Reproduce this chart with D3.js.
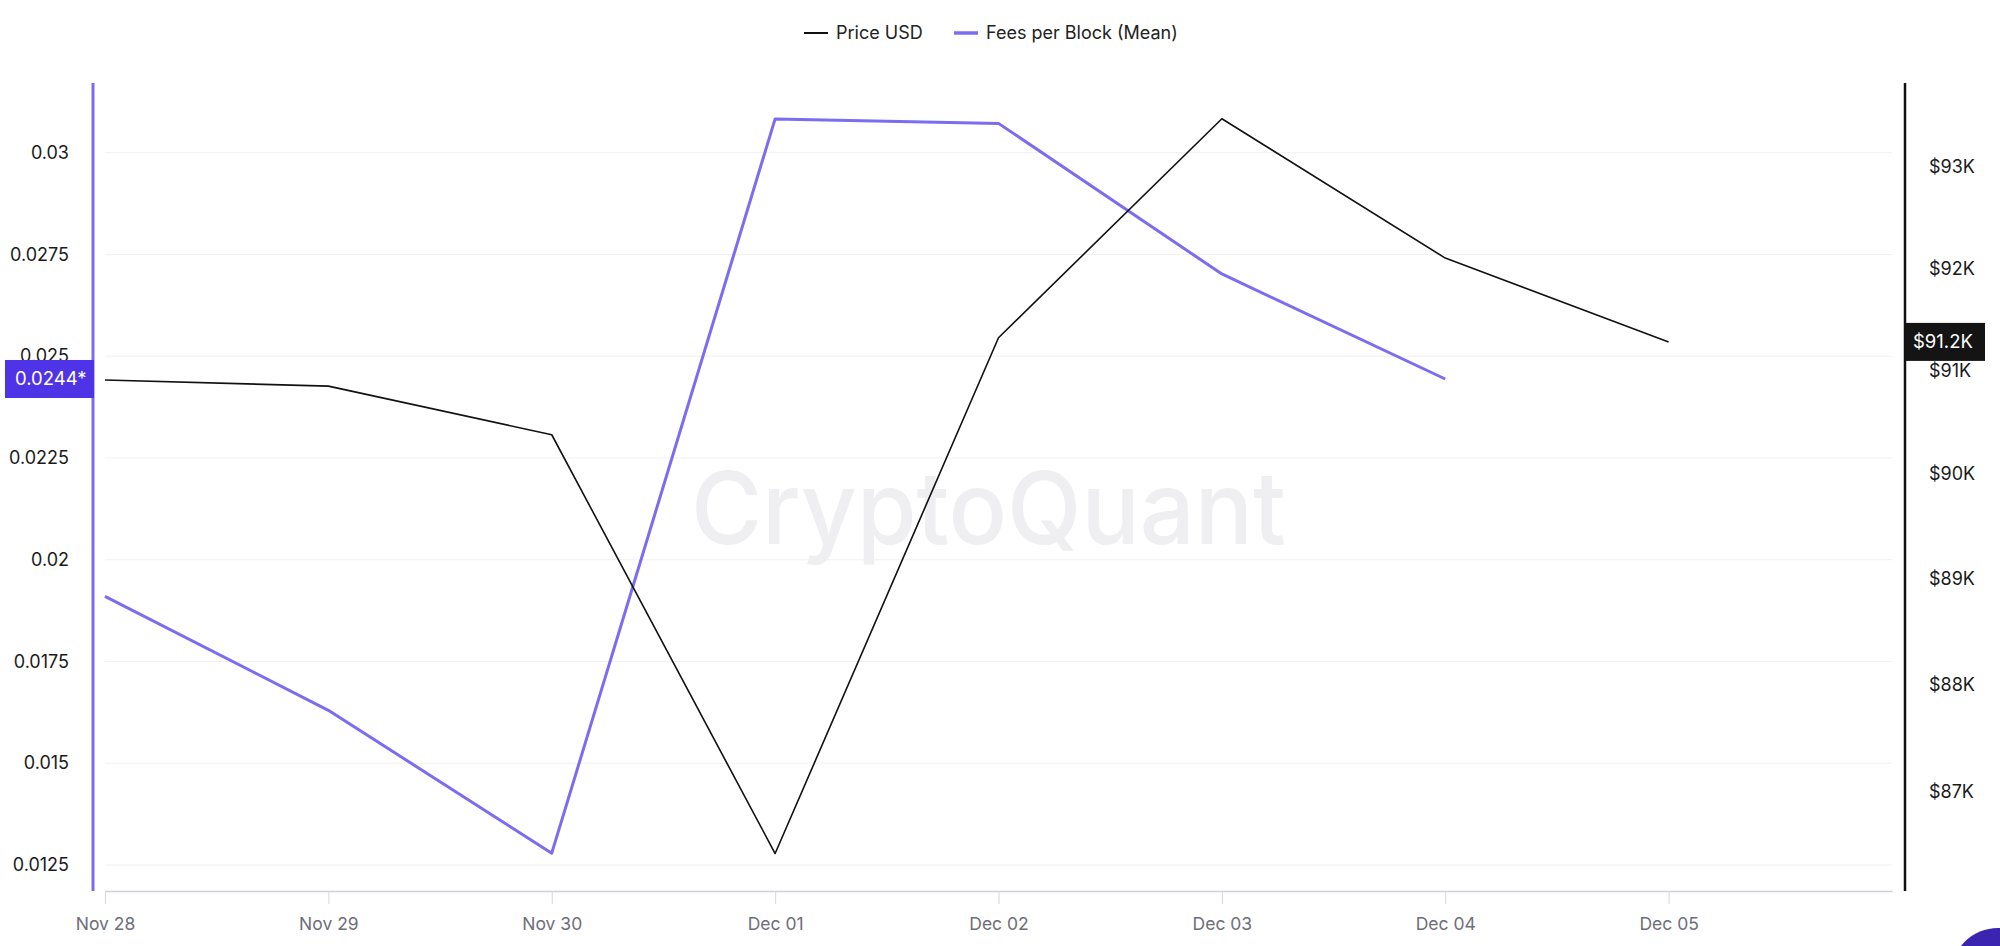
<!DOCTYPE html>
<html>
<head>
<meta charset="utf-8">
<script src="https://cdn.jsdelivr.net/npm/d3@7"></script>
<style>
  html, body { margin: 0; padding: 0; background: #ffffff; }
  svg { display: block; font-family: Inter, "Noto Sans", sans-serif; }
</style>
</head>
<body>
<svg id="chart" width="2000" height="946"></svg>
<script>
// ---- data ----
const dates = ["2024-11-28", "2024-11-29", "2024-11-30", "2024-12-01", "2024-12-02", "2024-12-03", "2024-12-04", "2024-12-05"];
const xTickLabels = ["Nov 28", "Nov 29", "Nov 30", "Dec 01", "Dec 02", "Dec 03", "Dec 04", "Dec 05"];
const priceUSD = [90910, 90850, 90380, 86430, 91320, 93480, 92100, 91280];
const feesPerBlockMean = [0.0191, 0.0163, 0.01279, 0.03083, 0.03072, 0.02702, 0.02444];
const leftTicks = [0.0125, 0.015, 0.0175, 0.02, 0.0225, 0.025, 0.0275, 0.03];
const rightTicks = [87000, 88000, 89000, 90000, 91000, 92000, 93000];
const seriesNames = ["Price USD", "Fees per Block (Mean)"];

// ---- layout ----
const svg = d3.select("#chart");
const plot = { left: 105, right: 1892, top: 83, bottom: 891 };
const purple = "#7b6cf2";
const parse = d3.utcParse("%Y-%m-%d");
const dateObjs = dates.map(parse);

const x = d3.scaleUtc()
  .domain([dateObjs[0], d3.utcDay.offset(dateObjs[dateObjs.length - 1], 1)])
  .range([plot.left, plot.right]);
const yL = d3.scaleLinear().domain([0.011861, 0.031712]).range([plot.bottom, plot.top]);
const yR = d3.scaleLog().domain([86085, 93837]).range([plot.bottom, plot.top]);

// gridlines (left axis)
svg.append("g").selectAll("line").data(leftTicks).join("line")
  .attr("x1", plot.left).attr("x2", plot.right)
  .attr("y1", d => yL(d)).attr("y2", d => yL(d))
  .attr("stroke", "#f1f1f3").attr("stroke-width", 1);

// watermark
svg.append("text")
  .attr("x", 691).attr("y", 544)
  .attr("textLength", 595).attr("lengthAdjust", "spacingAndGlyphs")
  .attr("font-size", 101).attr("font-weight", 500)
  .attr("fill", "#efeff2")
  .text("CryptoQuant");

// x axis
const xAxis = d3.axisBottom(x)
  .tickValues(dateObjs)
  .tickSizeInner(13)
  .tickSizeOuter(0)
  .tickPadding(14)
  .tickFormat((d, i) => xTickLabels[i]);
const gx = svg.append("g").attr("transform", `translate(0,${plot.bottom})`).call(xAxis);
gx.select(".domain").attr("stroke", "#cfd0de").attr("stroke-width", 1.5);
gx.selectAll(".tick line").attr("stroke", "#d6d6e2");
gx.selectAll(".tick text").attr("fill", "#6e6e7a").attr("font-size", 17.5).attr("font-family", "Inter, sans-serif");

// left axis
const yAxisL = d3.axisLeft(yL).tickValues(leftTicks).tickSize(0).tickPadding(24).tickFormat(d => String(d));
const gl = svg.append("g").attr("transform", `translate(93,0)`).call(yAxisL);
gl.select(".domain").remove();
gl.selectAll(".tick text").attr("fill", "#1a1a1a").attr("font-size", 18).attr("font-family", "Inter, sans-serif");
svg.append("line").attr("x1", 93).attr("x2", 93).attr("y1", plot.top).attr("y2", plot.bottom)
  .attr("stroke", purple).attr("stroke-width", 3);

// right axis
const yAxisR = d3.axisRight(yR).tickValues(rightTicks).tickSize(0).tickPadding(24)
  .tickFormat(d => "$" + Math.round(d / 1000) + "K");
const gr = svg.append("g").attr("transform", `translate(1905,0)`).call(yAxisR);
gr.select(".domain").remove();
gr.selectAll(".tick text").attr("fill", "#1a1a1a").attr("font-size", 18).attr("font-family", "Inter, sans-serif");
svg.append("line").attr("x1", 1905).attr("x2", 1905).attr("y1", plot.top).attr("y2", plot.bottom)
  .attr("stroke", "#111").attr("stroke-width", 2.5);

// lines
const feeLine = d3.line().x((d, i) => x(dateObjs[i])).y(d => yL(d));
const priceLine = d3.line().x((d, i) => x(dateObjs[i])).y(d => yR(d));

svg.append("path").datum(feesPerBlockMean)
  .attr("d", feeLine).attr("fill", "none")
  .attr("stroke", purple).attr("stroke-width", 3).attr("stroke-linejoin", "round");
svg.append("path").datum(priceUSD)
  .attr("d", priceLine).attr("fill", "none")
  .attr("stroke", "#111").attr("stroke-width", 1.6).attr("stroke-linejoin", "round");

// last value labels
const lastFee = feesPerBlockMean[feesPerBlockMean.length - 1];
const lf = yL(lastFee);
svg.append("rect").attr("x", 5).attr("y", lf - 19).attr("width", 89).attr("height", 38).attr("fill", "#4f33e6");
svg.append("text").attr("x", 15).attr("y", lf).attr("dy", "0.35em")
  .attr("fill", "#fff").attr("font-size", 18.5).text(lastFee.toFixed(4) + "*");

const lastPrice = priceUSD[priceUSD.length - 1];
const lp = yR(lastPrice);
svg.append("rect").attr("x", 1906).attr("y", lp - 19).attr("width", 79).attr("height", 38).attr("fill", "#141414");
svg.append("text").attr("x", 1913).attr("y", lp).attr("dy", "0.35em")
  .attr("fill", "#fff").attr("font-size", 18.5).text("$" + (Math.floor(lastPrice / 100) / 10).toFixed(1) + "K");

// legend
const legend = svg.append("g");
const legendItems = [
  { name: seriesNames[0], color: "#111", width: 2, x: 804 },
  { name: seriesNames[1], color: purple, width: 3.5, x: 954 }
];
legendItems.forEach(it => {
  legend.append("line").attr("x1", it.x).attr("x2", it.x + 24).attr("y1", 33).attr("y2", 33)
    .attr("stroke", it.color).attr("stroke-width", it.width);
  legend.append("text").attr("x", it.x + 32).attr("y", 33).attr("dy", "0.35em")
    .attr("font-size", 18).attr("fill", "#222").text(it.name);
});

// corner chat button (partially visible)
svg.append("circle").attr("cx", 1998).attr("cy", 975).attr("r", 47).attr("fill", "#3b24b0");
</script>
</body>
</html>
